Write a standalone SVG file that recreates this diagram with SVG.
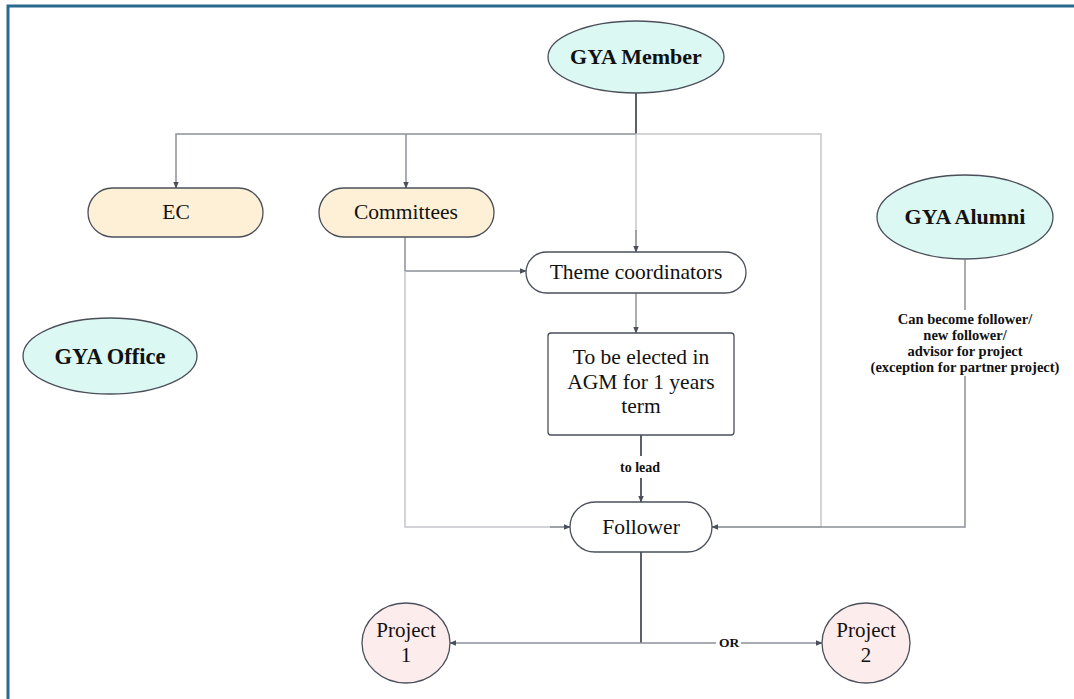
<svg xmlns="http://www.w3.org/2000/svg" width="1074" height="699" viewBox="0 0 1074 699">
<style>
.n{stroke:#4a4f5a;stroke-width:1.3}
.t{font-family:'Liberation Serif','Times New Roman','DejaVu Serif',serif;fill:#111;text-anchor:middle}
.b{font-weight:bold}
.c{fill:none;stroke:#8c9099;stroke-width:1.5}
.d{fill:none;stroke:#4a4f5a;stroke-width:1.8}
.l{fill:none;stroke:#c4c6ca;stroke-width:1.5}
</style>
<defs>
<marker id="a" viewBox="0 0 10 10" refX="9" refY="5" markerWidth="7" markerHeight="7" markerUnits="userSpaceOnUse" orient="auto"><path d="M0,1 L10,5 L0,9 z" fill="#4a4f5a"/></marker>
</defs>
<rect x="0" y="0" width="1074" height="699" fill="#fff"/>
<path d="M8,699 V6 H1074" fill="none" stroke="#2a6a8e" stroke-width="3"/>
<g id="connectors">
<path class="d" d="M636,93 V134"/>
<path class="c" d="M636,134 H176 V188" marker-end="url(#a)"/>
<path class="c" d="M406,134 V188" marker-end="url(#a)"/>
<path class="l" d="M636,134 V252"/>
<path class="c" d="M636,230 V252" marker-end="url(#a)"/>
<path class="l" d="M636,134 H821 V527 H712"/>
<path class="c" d="M405,237 V271 H526" marker-end="url(#a)"/>
<path class="l" d="M405,271 V527 H570"/>
<path class="c" d="M550,527 H570" marker-end="url(#a)"/>
<path class="c" d="M636,293 V333" marker-end="url(#a)"/>
<path class="d" d="M641,435 V456"/>
<path class="d" d="M641,478 V502" marker-end="url(#a)"/>
<text class="t b" x="640" y="472" font-size="14" fill="#333">to lead</text>
<path class="c" d="M965,260 V310"/>
<path class="c" d="M965,376 V527 H712" marker-end="url(#a)"/>
<text class="t b" x="965" y="324" font-size="14.5" fill="#333">Can become follower/</text>
<text class="t b" x="965" y="340" font-size="14.5" fill="#333">new follower/</text>
<text class="t b" x="965" y="356" font-size="14.5" fill="#333">advisor for project</text>
<text class="t b" x="965" y="372" font-size="14.5" fill="#333">(exception for partner project)</text>
<path class="d" d="M641,552 V643"/>
<path class="c" d="M641,643 H450" marker-end="url(#a)"/>
<path class="c" d="M641,643 H716 M741,643 H822" marker-end="url(#a)"/>
<text class="t b" x="729" y="647" font-size="13.5" fill="#333">OR</text>
</g>
<g id="gya-member"><ellipse class="n" cx="636" cy="57" rx="88" ry="36" fill="#dcf8f3"/><text class="t b" x="636" y="64" font-size="22">GYA Member</text></g>
<g id="ec"><rect class="n" x="88" y="188" width="175" height="49" rx="24.5" fill="#fdf0d6"/><text class="t" x="176" y="219" font-size="21.5">EC</text></g>
<g id="committees"><rect class="n" x="319" y="188" width="175" height="49" rx="24.5" fill="#fdf0d6"/><text class="t" x="406" y="219" font-size="21.5">Committees</text></g>
<g id="theme-coordinators"><rect class="n" x="526" y="252" width="220" height="41" rx="20.5" fill="#fff"/><text class="t" x="636" y="279" font-size="21.5">Theme coordinators</text></g>
<g id="elected"><rect class="n" x="548" y="333" width="186" height="102" rx="3" fill="#fff"/><text class="t" x="641" y="364" font-size="21.5">To be elected in</text><text class="t" x="641" y="389" font-size="21.5">AGM for 1 years</text><text class="t" x="641" y="413" font-size="21.5">term</text></g>
<g id="gya-alumni"><ellipse class="n" cx="965" cy="217" rx="88" ry="42" fill="#dcf8f3"/><text class="t b" x="965" y="224" font-size="22">GYA Alumni</text></g>
<g id="gya-office"><ellipse class="n" cx="110" cy="356" rx="87" ry="38" fill="#dcf8f3"/><text class="t b" x="110" y="364" font-size="22.5">GYA Office</text></g>
<g id="follower"><rect class="n" x="570" y="502" width="142" height="50" rx="25" fill="#fff"/><text class="t" x="641" y="534" font-size="21.5">Follower</text></g>
<g id="project1"><ellipse class="n" cx="406" cy="643" rx="44" ry="40" fill="#fcecec"/><text class="t" x="406" y="637" font-size="21">Project</text><text class="t" x="406" y="662" font-size="21">1</text></g>
<g id="project2"><ellipse class="n" cx="866" cy="643" rx="44" ry="40" fill="#fcecec"/><text class="t" x="866" y="637" font-size="21">Project</text><text class="t" x="866" y="662" font-size="21">2</text></g>
</svg>
